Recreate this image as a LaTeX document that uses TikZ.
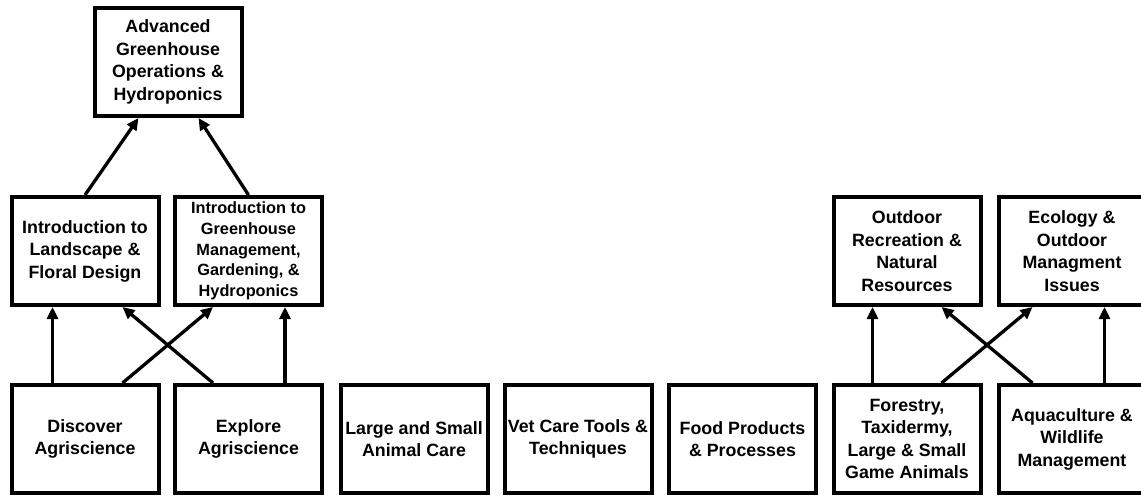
\documentclass[tikz,border=0pt]{standalone}
\usepackage{fontspec}
\setmainfont{Liberation Sans}
\usetikzlibrary{arrows.meta}
\begin{document}
\begin{tikzpicture}[x=1pt,y=-1pt,
  box/.style={draw,line width=4pt,minimum width=147pt,minimum height=108pt,inner sep=0pt,align=center,
    font=\fontsize{17.8}{22.5}\selectfont\bfseries},
  smallbox/.style={box,font=\fontsize{16.3}{20.7}\selectfont\bfseries},
  conn/.style={line width=3.3pt,-{Triangle[length=12pt,width=11pt]}}]
\useasboundingbox (0,0) rectangle (1141,497);
\clip (0,0) rectangle (1141,497);
% top
\node[box] (top) at (168,62) {Advanced\\Greenhouse\\Operations \&\\Hydroponics};
% middle row
\node[box] (ma) at (85,251) {Introduction to\\Landscape \&\\Floral Design};
\node[smallbox] (mb) at (248.5,251) {Introduction to\\Greenhouse\\Management,\\Gardening, \&\\Hydroponics};
\node[box] (mc) at (907,251) {Outdoor\\Recreation \&\\Natural\\Resources};
\node[box] (md) at (1072,251) {Ecology \&\\Outdoor\\Managment\\Issues};
% bottom row
\node[box] (b1) at (85,439) {Discover\\Agriscience};
\node[box] (b2) at (248.5,439) {Explore\\Agriscience};
\node[box] (b3) at (414,439) {Large and Small\\Animal Care};
\node[box] (b4) at (578,439) {Vet Care Tools \&\\Techniques};
\node[box] (b5) at (742.5,439) {Food Products\\\& Processes};
\node[box] (b6) at (907,439) {Forestry,\\Taxidermy,\\Large \& Small\\Game Animals};
\node[box] (b7) at (1072,439) {Aquaculture \&\\Wildlife\\Management};
% connectors to top
\draw[conn] (ma.north) -- ([xshift=46pt]top.south west);
\draw[conn] (mb.north) -- ([xshift=106pt]top.south west);
% left cluster
\draw[conn] ([xshift=43pt]b1.north west) -- ([xshift=43pt]ma.south west);
\draw[conn] ([xshift=113pt]b1.north west) -- ([xshift=40pt]mb.south west);
\draw[conn] ([xshift=40pt]b2.north west) -- ([xshift=113pt]ma.south west);
\draw[conn] ([xshift=112pt]b2.north west) -- ([xshift=112pt]mb.south west);
% right cluster
\draw[conn] ([xshift=41pt]b6.north west) -- ([xshift=41pt]mc.south west);
\draw[conn] ([xshift=110pt]b6.north west) -- ([xshift=36pt]md.south west);
\draw[conn] ([xshift=36pt]b7.north west) -- ([xshift=110pt]mc.south west);
\draw[conn] ([xshift=108pt]b7.north west) -- ([xshift=108pt]md.south west);
\end{tikzpicture}
\end{document}
